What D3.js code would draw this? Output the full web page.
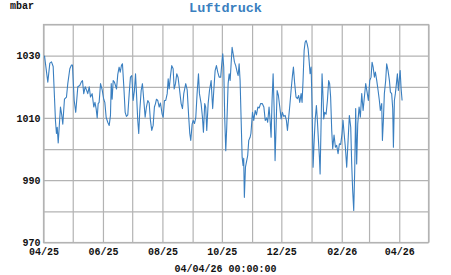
<!DOCTYPE html>
<html>
<head>
<meta charset="utf-8">
<script src="https://cdn.jsdelivr.net/npm/d3@7"></script>
<style>
  body { margin: 0; background: #fff; }
  svg { display: block; }
  text { font-family: "Liberation Mono", "DejaVu Sans Mono", monospace; font-weight: bold; }
</style>
</head>
<body>
<div id="chart"></div>
<script>
// pressure series: days since 2025-04-01 and reading in mbar
var startDate = "2025-04-01";
var endDate = "2026-05-01";
var stampLabel = "04/04/26 00:00:00";

var dayOffset = [
  1.0, 4.4, 6.5, 8.2, 9.9, 12.3, 13.3, 14.1, 15.1, 17.4, 18.7, 19.8, 21.5, 23.6, 24.9, 27.0, 28.7, 29.7,
  31.5, 33.1, 35.2, 37.2, 38.7, 40.0, 41.3, 42.8, 44.1, 45.4, 46.9, 48.2, 49.9, 51.6, 52.8, 54.0, 55.1,
  56.1, 57.1, 58.5, 60.2, 61.8, 62.9, 64.3, 65.9, 67.4, 68.7, 69.5, 70.4, 71.5, 72.8, 74.9, 76.2, 77.6,
  78.7, 80.0, 81.0, 82.4, 83.8, 85.1, 86.5, 87.9, 89.2, 90.6, 92.0, 93.3, 94.4, 95.4, 96.7, 97.7, 98.8,
  100.2, 101.5, 102.9, 104.3, 105.6, 107.0, 108.4, 109.7, 111.1, 112.5, 113.8, 114.9, 115.9, 117.2,
  118.7, 120.0, 121.7, 122.8, 124.1, 125.4, 126.9, 127.9, 128.9, 130.3, 131.6, 133.0, 134.1, 135.4,
  136.7, 138.1, 139.5, 141.2, 142.6, 143.9, 145.9, 147.4, 149.0, 150.1, 151.1, 152.5, 153.6, 154.9,
  156.2, 157.6, 159.0, 160.0, 161.7, 163.1, 164.1, 165.4, 166.4, 167.5, 168.9, 170.3, 172.0, 173.0,
  173.6, 174.7, 176.1, 177.4, 178.8, 180.2, 181.8, 182.9, 183.9, 184.9, 185.9, 187.0, 188.0, 189.4,
  190.5, 191.5, 192.5, 193.5, 194.6, 195.9, 197.2, 198.7, 199.7, 200.7, 201.7, 202.8, 203.8, 204.8,
  205.4, 206.1, 207.2, 208.5, 209.5, 210.6, 212.0, 212.8, 213.3, 214.4, 215.7, 217.2, 218.5, 219.9,
  221.3, 222.7, 224.4, 226.1, 227.5, 228.9, 230.0, 231.4, 232.5, 233.5, 234.5, 235.6, 236.6, 237.6,
  238.7, 239.7, 241.0, 242.4, 243.8, 245.1, 246.5, 247.9, 249.2, 250.3, 251.6, 252.7, 254.0, 255.4,
  256.4, 257.7, 259.1, 260.5, 261.8, 262.9, 264.3, 265.3, 266.3, 267.4, 268.4, 269.4, 270.5, 271.5,
  272.5, 273.5, 274.6, 275.6, 276.6, 277.7, 278.7, 280.0, 281.0, 282.1, 283.1, 283.8, 284.8, 285.8,
  286.9, 287.5, 288.5, 289.9, 291.3, 292.6, 293.6, 294.6, 295.7, 296.7, 298.1, 299.5, 300.8, 302.2,
  303.6, 304.9, 306.3, 307.3, 308.4, 309.7, 311.1, 312.5, 313.8, 315.2, 316.2, 317.2, 318.3, 319.3,
  320.3, 321.3, 322.4, 323.8, 325.1, 326.5, 327.9, 329.2, 330.6, 332.0, 333.3, 334.7, 336.1, 337.1,
  338.2, 339.5, 340.5, 341.9, 343.3, 344.6, 345.6, 347.0, 347.7, 348.7, 349.7, 351.1, 352.1, 353.5,
  354.9, 355.9, 357.2, 358.3, 359.0, 360.0, 361.0, 362.1, 363.1, 364.1, 364.8, 365.9, 366.9, 367.9
];

var mbar = [
  1030, 1021.5, 1027.6, 1028, 1026.5, 1009, 1005, 1007, 1002, 1013.5, 1011, 1008, 1016, 1016.7, 1021, 1025.8, 1027, 1027,
  1015.6, 1011.8, 1020, 1020.4, 1021.5, 1022, 1017.8, 1020, 1019, 1017.8, 1020, 1016.7, 1017.8, 1013.5, 1015, 1013, 1010,
  1014.6, 1015, 1021, 1019, 1016, 1015, 1010.2, 1008.6, 1007.6, 1010.8, 1021, 1016, 1022, 1021.5, 1019.3, 1024, 1026.3,
  1024.7, 1026.9, 1027.4, 1020, 1011.8, 1010.5, 1011, 1017.8, 1023.1, 1023.6, 1015.6, 1018.8, 1024.2, 1017.8, 1009.2, 1005, 1012.4,
  1018.8, 1021, 1015.6, 1010.2, 1013.5, 1015.6, 1014.8, 1009.2, 1006, 1007.6, 1013.5, 1014.6, 1016, 1015.6,
  1013.5, 1014.8, 1011.2, 1010.2, 1015.6, 1015.6, 1017.8, 1022.6, 1019.3, 1023.6, 1026.8, 1025.8, 1019.3, 1021,
  1024.2, 1023, 1019.3, 1014.6, 1013, 1017.8, 1021, 1019, 1010.2, 1005, 1002.8, 1008, 1009.2, 1008.2,
  1010, 1017.8, 1024.2, 1017.8, 1014.6, 1010.2, 1005.4, 1014.6, 1013.5, 1006, 1014.6, 1018.8, 1022, 1016,
  1013, 1018.8, 1025.2, 1026.8, 1024.7, 1023.1, 1023.1, 1027.4, 1030.6, 1026.3, 1010.2, 999.5, 1007, 1021,
  1024.2, 1022, 1027.4, 1032.7, 1030.6, 1027.9, 1026.8, 1024.7, 1023.6, 1027.4, 1022, 1009.2, 997.4, 994.7,
  997, 984.5, 994.2, 996.3, 997.9, 1002.8, 1003.8, 1005, 1007, 1011.8, 1009.2, 1012.4, 1011, 1013.5,
  1013.2, 1014.6, 1014.6, 1013.5, 1009.2, 1010, 1008.6, 1013.5, 1009.2, 1003.8, 1015.6, 1024.2, 1013.5, 996.3,
  1008.1, 1018.8, 1017.2, 1013.5, 1009.7, 1011.8, 1010.5, 1010.8, 1009.2, 1006, 1010.2, 1014, 1018.8, 1023.6,
  1026.3, 1021, 1016.7, 1016.2, 1017.2, 1015, 1017.8, 1015, 1022, 1031.7, 1034.3, 1034.9, 1033.8, 1032.2,
  1028.4, 1024.2, 1026.3, 1013.5, 994.2, 1002.8, 1009.2, 1014, 1009.2, 1002.8, 997.4, 992, 1008, 1024.2,
  1015.6, 1009.7, 1011.8, 1011.2, 1015.6, 1022, 1021, 1016.7, 1006, 1000.1, 1004.5, 1000.6, 1001.2, 998.5,
  1001.7, 1001.5, 1005, 1009.2, 1005, 1000.6, 994.2, 1002.8, 1010.8, 1007, 995.2, 986.7, 980.3, 993.1,
  1013, 995.2, 1008.1, 1013.5, 1010.2, 1017.8, 1012.4, 1016.7, 1021, 1018.3, 1015.6, 1022, 1023.1, 1027.9,
  1026.3, 1023.1, 1024.7, 1022, 1018.8, 1015.6, 1012.4, 1014.6, 1002.8, 1009.2, 1017.8, 1022, 1027.4, 1025.2,
  1022, 1018.3, 1017.8, 1013, 1000.6, 1015.6, 1017.8, 1021, 1024.2, 1018.8, 1021.5, 1025.2, 1019.3, 1015.6
];

var yGridValues = [970, 980, 990, 1000, 1010, 1020, 1030, 1040];
var yLabelValues = [970, 990, 1010, 1030];

var W = 451, H = 275;
var margin = { top: 24, right: 23, bottom: 33, left: 43 };
var width = W - margin.left - margin.right;
var height = H - margin.top - margin.bottom;
var gridColor = "#b3b3b3";
var lineColor = "#3a7fc0";

var t0 = new Date(startDate + "T00:00:00Z");
var t1 = new Date(endDate + "T00:00:00Z");
var data = dayOffset.map(function (d, i) {
  return { date: d3.utcHour.offset(t0, Math.round(d * 24)), value: mbar[i] };
});

var x = d3.scaleUtc()
  .domain([t0, t1])
  .range([0, width]);
var y = d3.scaleLinear()
  .domain([970, 1040])
  .range([height, 0]);

var svg = d3.select("#chart").append("svg")
  .attr("width", W)
  .attr("height", H);

var g = svg.append("g")
  .attr("transform", "translate(" + (margin.left + 0.5) + "," + (margin.top + 0.5) + ")");

// grid
var xGrid = g.append("g")
  .attr("transform", "translate(0," + height + ")")
  .call(d3.axisBottom(x).tickValues(d3.utcMonth.range(t0, d3.utcDay.offset(t1, 1))).tickSize(-height).tickFormat(""));
var yGrid = g.append("g")
  .call(d3.axisLeft(y).tickValues(yGridValues).tickSize(-width).tickFormat(""));
[xGrid, yGrid].forEach(function (a) {
  a.select(".domain").remove();
  a.selectAll("line").attr("stroke", gridColor).attr("stroke-width", 1.2);
});

g.append("rect")
  .attr("width", width)
  .attr("height", height)
  .attr("fill", "none")
  .attr("stroke", gridColor)
  .attr("stroke-width", 1.2);

// labels, every second month starting at april
var xAxis = g.append("g")
  .attr("transform", "translate(0," + height + ")")
  .call(d3.axisBottom(x).tickValues(d3.utcMonth.range(t0, t1, 2)).tickSize(0).tickPadding(5)
    .tickFormat(d3.utcFormat("%m/%y")));
var yAxis = g.append("g")
  .call(d3.axisLeft(y).tickValues(yLabelValues).tickSize(0).tickPadding(3)
    .tickFormat(d3.format("d")));
[xAxis, yAxis].forEach(function (a) {
  a.select(".domain").remove();
  a.attr("font-family", null).attr("font-size", null);
  a.selectAll("text").attr("fill", "#111").style("font-size", "10px");
});

// series
g.append("path")
  .datum(data)
  .attr("fill", "none")
  .attr("stroke", lineColor)
  .attr("stroke-width", 1.1)
  .attr("stroke-linejoin", "round")
  .attr("d", d3.line()
    .x(function (d) { return x(d.date); })
    .y(function (d) { return y(d.value); }));

svg.append("text")
  .attr("x", W / 2)
  .attr("y", 12)
  .attr("text-anchor", "middle")
  .attr("fill", lineColor)
  .style("font-size", "13.5px")
  .text("Luftdruck");

svg.append("text")
  .attr("x", 10)
  .attr("y", 9)
  .attr("fill", "#111")
  .style("font-size", "10px")
  .text("mbar");

svg.append("text")
  .attr("x", W / 2)
  .attr("y", 272)
  .attr("text-anchor", "middle")
  .attr("fill", "#111")
  .style("font-size", "10px")
  .text(stampLabel);
</script>
</body>
</html>
